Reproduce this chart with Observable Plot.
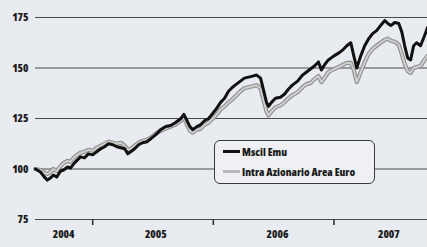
<!DOCTYPE html>
<html>
<head>
<meta charset="utf-8">
<script src="https://cdn.jsdelivr.net/npm/d3@7"></script>
<script src="https://cdn.jsdelivr.net/npm/@observablehq/plot@0.6"></script>
<style>
  html, body { margin: 0; padding: 0; background: #e8ebf0; }
  #wrap { position: relative; width: 427px; height: 247px; overflow: hidden; }
  svg text { font-family: "Open Sans", sans-serif; font-stretch: condensed; font-weight: 800; }
  .lg { position: absolute; left: 214px; top: 140px; width: 159px; height: 42px;
        border: 1.6px solid #3a3a3a; border-radius: 6px; background: #eef0f4;
        font-family: "Open Sans", sans-serif; font-stretch: condensed;
        font-weight: 800; font-size: 11px; color: #1a1a1a; white-space: nowrap; }
  .row { position: absolute; left: 8px; display: flex; align-items: center; }
  .sw { width: 17px; height: 3px; margin-right: 2px; }
</style>
</head>
<body>
<div id="wrap"></div>
<script>
const dates = [
"2004-07-12","2004-07-27","2004-08-08","2004-08-17","2004-08-26","2004-09-04","2004-09-14","2004-09-26",
"2004-10-05","2004-10-17","2004-10-26","2004-11-07","2004-11-16","2004-11-25","2004-12-07","2004-12-19",
"2005-01-01","2005-01-13","2005-01-25","2005-02-06","2005-02-18","2005-03-03","2005-03-15","2005-03-27",
"2005-04-08","2005-04-17","2005-04-26","2005-05-08","2005-05-20","2005-06-01","2005-06-14","2005-06-26",
"2005-07-11","2005-07-26","2005-08-10","2005-08-25","2005-09-09","2005-09-25","2005-10-04","2005-10-13",
"2005-10-22","2005-10-31","2005-11-12","2005-11-24","2005-12-06","2005-12-18","2005-12-30","2006-01-11",
"2006-01-23","2006-02-04","2006-02-16","2006-02-28","2006-03-12","2006-03-24","2006-04-05","2006-04-18",
"2006-04-30","2006-05-12","2006-05-24","2006-06-02","2006-06-11","2006-06-17","2006-06-26","2006-07-08",
"2006-07-23","2006-08-04","2006-08-16","2006-08-28","2006-09-13","2006-09-28","2006-10-10","2006-10-22",
"2006-11-03","2006-11-15","2006-11-24","2006-12-03","2006-12-15","2007-01-01","2007-01-16","2007-01-28",
"2007-02-09","2007-02-21","2007-03-02","2007-03-11","2007-03-23","2007-04-04","2007-04-16","2007-04-28",
"2007-05-10","2007-05-22","2007-06-04","2007-06-13","2007-06-22","2007-07-04","2007-07-16","2007-07-25",
"2007-08-03","2007-08-12","2007-08-21","2007-08-30","2007-09-08","2007-09-20","2007-10-02","2007-10-11"
];
const msciEmu = [
100,98.5,96,94.5,95.5,97,96,99,
99.5,101,100.5,103,104.5,106,105.5,107.5,
107,108.5,110,111,112.5,112,111,110.5,
110,107.5,108.5,110,112,113,113.5,115,
117,119.5,121,121.5,123,125,127,124,
121,119.5,121,122,124,125,127.5,130,
133,135,138.5,140.5,142,143.5,145,145.5,
146,146.5,145,139,133,131,133,135,
135.5,137,139.5,141.5,143.5,146.5,148,149.5,
151,153,149,151.5,154,156,157.5,159,
161,162.5,156,150,156,161,164.5,167,
168.5,171,173.5,172,171,172.5,172,168,
161,155,154,161,162.5,161,166,170
];
const intraEuro = [
100,99.5,98,97.5,98.5,100,99,101.5,
103,104,103.5,106,107,108,108.5,109.5,
109,110.5,111.5,112.5,113.5,113,112.5,113,
111.5,109.5,110,111.5,113,114,114.5,115.5,
117.5,119,120,121,122,124,125.5,122,
119,118,119.5,120,122,123,125,127,
129.5,131,133,134.5,136.5,138.5,140,140.5,
141,141.5,140,134,128.5,126.5,128.5,130.5,
131.5,133,135,136.5,138,140.5,142,142.5,
144.5,146,143,145,148,149.5,150.5,151.5,
152.5,152.5,149,143,148,153,157,159.5,
161,162.5,164,164.5,163.5,163,161.5,157,
152,148.5,147.5,150,150.5,151,154,156
];
const yTicks = [75, 100, 125, 150, 175];
const yearTicks = ["2005-01-01", "2006-01-01", "2007-01-01"];
const yearLabels = ["2004", "2005", "2006", "2007"];
const yearLabelDates = ["2004-10-05", "2005-07-11", "2006-07-14", "2007-06-16"];
const seriesNames = ["Mscil Emu", "Intra Azionario Area Euro"];

const parse = d3.utcParse("%Y-%m-%d");
const rows = dates.map((d, i) => ({date: parse(d), a: msciEmu[i], b: intraEuro[i]}));
const labels = yearLabels.map((t, i) => ({date: parse(yearLabelDates[i]), t}));
const tickDates = yearTicks.map(parse);

const chart = Plot.plot({
  width: 427, height: 247,
  marginLeft: 35, marginRight: 0, marginTop: 17, marginBottom: 28,
  style: {background: "transparent", fontSize: "11px", color: "#1a1a1a"},
  x: {type: "utc", axis: null, domain: [parse(dates[0]), parse(dates[dates.length - 1])]},
  y: {domain: [75, 175]},
  marks: [
    Plot.ruleY(yTicks, {stroke: "#4a4a4a", strokeWidth: 1.2}),
    Plot.axisX({ticks: tickDates, tickSize: 6, tickFormat: () => "", stroke: "#333", strokeWidth: 1.6, label: null}),
    Plot.axisY(yTicks, {tickSize: 0, tickPadding: 7, label: null, fontSize: 11}),
    Plot.text(labels, {x: "date", text: "t", frameAnchor: "bottom", dy: 18, fontSize: 11}),
    Plot.line(rows, {x: "date", y: "b", stroke: "#8e8e8e", strokeWidth: 4.2}),
    Plot.line(rows, {x: "date", y: "b", stroke: "#cfcfcf", strokeWidth: 2}),
    Plot.line(rows, {x: "date", y: "a", stroke: "#111", strokeWidth: 3})
  ]
});
const wrap = document.getElementById("wrap");
wrap.appendChild(chart);
const lg = document.createElement("div");
lg.className = "lg";
lg.innerHTML =
  `<div class="row" style="top:3px"><div class="sw" style="background:#111"></div>${seriesNames[0]}</div>` +
  `<div class="row" style="top:23px"><div class="sw" style="background:#b8b8b8"></div>${seriesNames[1]}</div>`;
wrap.appendChild(lg);
</script>
</body>
</html>
